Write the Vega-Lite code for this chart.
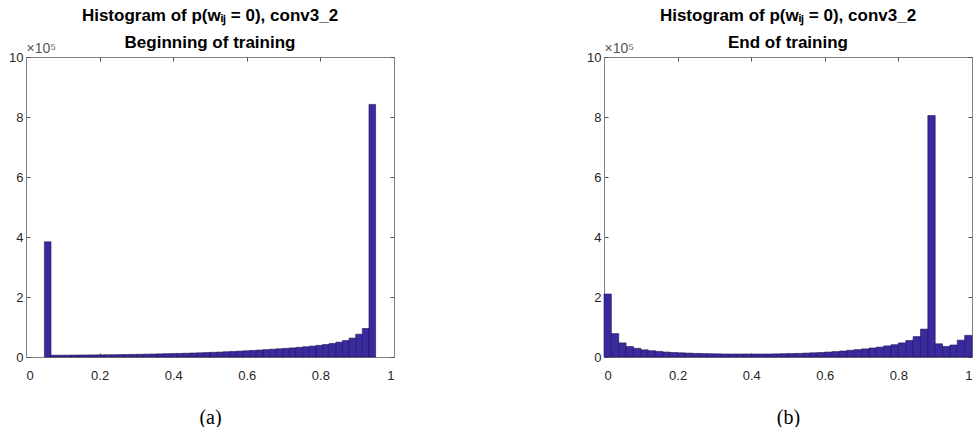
{
  "$schema": "https://vega.github.io/schema/vega-lite/v6.json",
  "background": "white",
  "padding": {"left": 8, "top": 7, "right": 0, "bottom": 0},
  "spacing": 191,
  "data": {"values": [
    {"p":"a","x0":0.05,"x1":0.068,"v":384000},
    {"p":"a","x0":0.068,"x1":0.086,"v":6000},
    {"p":"a","x0":0.086,"x1":0.104,"v":6000},
    {"p":"a","x0":0.104,"x1":0.122,"v":6200},
    {"p":"a","x0":0.122,"x1":0.14,"v":6400},
    {"p":"a","x0":0.14,"x1":0.158,"v":6600},
    {"p":"a","x0":0.158,"x1":0.176,"v":6800},
    {"p":"a","x0":0.176,"x1":0.194,"v":7000},
    {"p":"a","x0":0.194,"x1":0.212,"v":7200},
    {"p":"a","x0":0.212,"x1":0.23,"v":7400},
    {"p":"a","x0":0.23,"x1":0.248,"v":7700},
    {"p":"a","x0":0.248,"x1":0.266,"v":8000},
    {"p":"a","x0":0.266,"x1":0.284,"v":8300},
    {"p":"a","x0":0.284,"x1":0.302,"v":8700},
    {"p":"a","x0":0.302,"x1":0.32,"v":9100},
    {"p":"a","x0":0.32,"x1":0.338,"v":9500},
    {"p":"a","x0":0.338,"x1":0.356,"v":10000},
    {"p":"a","x0":0.356,"x1":0.374,"v":10500},
    {"p":"a","x0":0.374,"x1":0.392,"v":11000},
    {"p":"a","x0":0.392,"x1":0.41,"v":11500},
    {"p":"a","x0":0.41,"x1":0.428,"v":12000},
    {"p":"a","x0":0.428,"x1":0.446,"v":12600},
    {"p":"a","x0":0.446,"x1":0.464,"v":13300},
    {"p":"a","x0":0.464,"x1":0.482,"v":14000},
    {"p":"a","x0":0.482,"x1":0.5,"v":14800},
    {"p":"a","x0":0.5,"x1":0.518,"v":15600},
    {"p":"a","x0":0.518,"x1":0.536,"v":16500},
    {"p":"a","x0":0.536,"x1":0.554,"v":17500},
    {"p":"a","x0":0.554,"x1":0.572,"v":18500},
    {"p":"a","x0":0.572,"x1":0.59,"v":19600},
    {"p":"a","x0":0.59,"x1":0.608,"v":20700},
    {"p":"a","x0":0.608,"x1":0.626,"v":21900},
    {"p":"a","x0":0.626,"x1":0.644,"v":23200},
    {"p":"a","x0":0.644,"x1":0.662,"v":24500},
    {"p":"a","x0":0.662,"x1":0.68,"v":25900},
    {"p":"a","x0":0.68,"x1":0.698,"v":27300},
    {"p":"a","x0":0.698,"x1":0.716,"v":28800},
    {"p":"a","x0":0.716,"x1":0.734,"v":30400},
    {"p":"a","x0":0.734,"x1":0.752,"v":32200},
    {"p":"a","x0":0.752,"x1":0.77,"v":34200},
    {"p":"a","x0":0.77,"x1":0.788,"v":36400},
    {"p":"a","x0":0.788,"x1":0.806,"v":38900},
    {"p":"a","x0":0.806,"x1":0.824,"v":41800},
    {"p":"a","x0":0.824,"x1":0.842,"v":45200},
    {"p":"a","x0":0.842,"x1":0.86,"v":49400},
    {"p":"a","x0":0.86,"x1":0.878,"v":55000},
    {"p":"a","x0":0.878,"x1":0.896,"v":63000},
    {"p":"a","x0":0.896,"x1":0.914,"v":76000},
    {"p":"a","x0":0.914,"x1":0.932,"v":95000},
    {"p":"a","x0":0.932,"x1":0.95,"v":842000},
    {"p":"b","x0":0.0,"x1":0.02,"v":210000},
    {"p":"b","x0":0.02,"x1":0.04,"v":78000},
    {"p":"b","x0":0.04,"x1":0.06,"v":47000},
    {"p":"b","x0":0.06,"x1":0.08,"v":35000},
    {"p":"b","x0":0.08,"x1":0.1,"v":29000},
    {"p":"b","x0":0.1,"x1":0.12,"v":24000},
    {"p":"b","x0":0.12,"x1":0.14,"v":21000},
    {"p":"b","x0":0.14,"x1":0.16,"v":18500},
    {"p":"b","x0":0.16,"x1":0.18,"v":16500},
    {"p":"b","x0":0.18,"x1":0.2,"v":15000},
    {"p":"b","x0":0.2,"x1":0.22,"v":14000},
    {"p":"b","x0":0.22,"x1":0.24,"v":13000},
    {"p":"b","x0":0.24,"x1":0.26,"v":12000},
    {"p":"b","x0":0.26,"x1":0.28,"v":11500},
    {"p":"b","x0":0.28,"x1":0.3,"v":11000},
    {"p":"b","x0":0.3,"x1":0.32,"v":10500},
    {"p":"b","x0":0.32,"x1":0.34,"v":10000},
    {"p":"b","x0":0.34,"x1":0.36,"v":10000},
    {"p":"b","x0":0.36,"x1":0.38,"v":10000},
    {"p":"b","x0":0.38,"x1":0.4,"v":10000},
    {"p":"b","x0":0.4,"x1":0.42,"v":10000},
    {"p":"b","x0":0.42,"x1":0.44,"v":10000},
    {"p":"b","x0":0.44,"x1":0.46,"v":10000},
    {"p":"b","x0":0.46,"x1":0.48,"v":10500},
    {"p":"b","x0":0.48,"x1":0.5,"v":11000},
    {"p":"b","x0":0.5,"x1":0.52,"v":11500},
    {"p":"b","x0":0.52,"x1":0.54,"v":12000},
    {"p":"b","x0":0.54,"x1":0.56,"v":13000},
    {"p":"b","x0":0.56,"x1":0.58,"v":14000},
    {"p":"b","x0":0.58,"x1":0.6,"v":15000},
    {"p":"b","x0":0.6,"x1":0.62,"v":16500},
    {"p":"b","x0":0.62,"x1":0.64,"v":18000},
    {"p":"b","x0":0.64,"x1":0.66,"v":20000},
    {"p":"b","x0":0.66,"x1":0.68,"v":22500},
    {"p":"b","x0":0.68,"x1":0.7,"v":24500},
    {"p":"b","x0":0.7,"x1":0.72,"v":27000},
    {"p":"b","x0":0.72,"x1":0.74,"v":30000},
    {"p":"b","x0":0.74,"x1":0.76,"v":33000},
    {"p":"b","x0":0.76,"x1":0.78,"v":37000},
    {"p":"b","x0":0.78,"x1":0.8,"v":41000},
    {"p":"b","x0":0.8,"x1":0.82,"v":47000},
    {"p":"b","x0":0.82,"x1":0.84,"v":55000},
    {"p":"b","x0":0.84,"x1":0.86,"v":68000},
    {"p":"b","x0":0.86,"x1":0.88,"v":93000},
    {"p":"b","x0":0.88,"x1":0.9,"v":805000},
    {"p":"b","x0":0.9,"x1":0.92,"v":44000},
    {"p":"b","x0":0.92,"x1":0.94,"v":35000},
    {"p":"b","x0":0.94,"x1":0.96,"v":40000},
    {"p":"b","x0":0.96,"x1":0.98,"v":56000},
    {"p":"b","x0":0.98,"x1":1.0,"v":72000}
  ]},
  "hconcat": [
    {
      "width": 368, "height": 300,
      "transform": [{"filter": "datum.p == 'a'"}],
      "title": {"text": "Histogram of p(wᵢⱼ = 0), conv3_2", "subtitle": "Beginning of training"},
      "layer": [
        {
          "mark": {"type": "bar", "fill": "#3a2aa0", "stroke": "#1c1450", "strokeWidth": 0.6},
          "encoding": {
            "x": {"field": "x0", "type": "quantitative", "scale": {"domain": [0, 1], "nice": false},
                  "axis": {"orient": "bottom", "values": [0, 0.2, 0.4, 0.6, 0.8, 1], "format": ".1~f", "title": "(a)"}},
            "x2": {"field": "x1"},
            "y": {"field": "v", "type": "quantitative", "scale": {"domain": [0, 1000000], "nice": false},
                  "axis": {"orient": "left", "values": [0, 200000, 400000, 600000, 800000, 1000000], "labelExpr": "datum.value / 100000", "title": "×10⁵",
                           "titleAngle": 0, "titleAlign": "left", "titleBaseline": "alphabetic", "titleX": 0, "titleY": -5, "titleFontSize": 14, "titleFontWeight": "normal", "titleColor": "#555555"}},
            "y2": {"datum": 0}
          }
        },
        {
          "mark": {"type": "bar", "opacity": 0},
          "encoding": {
            "x": {"field": "x0", "type": "quantitative", "axis": {"orient": "top", "values": [0, 0.2, 0.4, 0.6, 0.8, 1], "labels": false, "title": null}},
            "x2": {"field": "x1"},
            "y": {"field": "v", "type": "quantitative", "axis": {"orient": "right", "values": [0, 200000, 400000, 600000, 800000, 1000000], "labels": false, "title": null}},
            "y2": {"datum": 0}
          }
        }
      ],
      "resolve": {"axis": {"x": "independent", "y": "independent"}}
    },
    {
      "width": 368, "height": 300,
      "transform": [{"filter": "datum.p == 'b'"}],
      "title": {"text": "Histogram of p(wᵢⱼ = 0), conv3_2", "subtitle": "End of training"},
      "layer": [
        {
          "mark": {"type": "bar", "fill": "#3a2aa0", "stroke": "#1c1450", "strokeWidth": 0.6},
          "encoding": {
            "x": {"field": "x0", "type": "quantitative", "scale": {"domain": [0, 1], "nice": false},
                  "axis": {"orient": "bottom", "values": [0, 0.2, 0.4, 0.6, 0.8, 1], "format": ".1~f", "title": "(b)"}},
            "x2": {"field": "x1"},
            "y": {"field": "v", "type": "quantitative", "scale": {"domain": [0, 1000000], "nice": false},
                  "axis": {"orient": "left", "values": [0, 200000, 400000, 600000, 800000, 1000000], "labelExpr": "datum.value / 100000", "title": "×10⁵",
                           "titleAngle": 0, "titleAlign": "left", "titleBaseline": "alphabetic", "titleX": 0, "titleY": -5, "titleFontSize": 14, "titleFontWeight": "normal", "titleColor": "#555555"}},
            "y2": {"datum": 0}
          }
        },
        {
          "mark": {"type": "bar", "opacity": 0},
          "encoding": {
            "x": {"field": "x0", "type": "quantitative", "axis": {"orient": "top", "values": [0, 0.2, 0.4, 0.6, 0.8, 1], "labels": false, "title": null}},
            "x2": {"field": "x1"},
            "y": {"field": "v", "type": "quantitative", "axis": {"orient": "right", "values": [0, 200000, 400000, 600000, 800000, 1000000], "labels": false, "title": null}},
            "y2": {"datum": 0}
          }
        }
      ],
      "resolve": {"axis": {"x": "independent", "y": "independent"}}
    }
  ],
  "config": {
    "font": "Liberation Sans",
    "view": {"stroke": null},
    "title": {"font": "Liberation Sans", "fontSize": 17, "fontWeight": "bold", "color": "#000000", "subtitleFont": "Liberation Sans", "subtitleFontSize": 17, "subtitleFontWeight": "bold", "subtitleColor": "#000000", "subtitlePadding": 10, "offset": -11, "anchor": "middle", "frame": "group"},
    "axis": {"grid": false, "domainColor": "#808080", "domainWidth": 1, "tickColor": "#555555", "tickSize": -4, "labelFont": "Liberation Sans", "labelFontSize": 13, "labelColor": "#262626"},
    "axisX": {"labelPadding": 16, "titleFont": "Liberation Serif", "titleFontSize": 20, "titleFontWeight": "normal", "titleColor": "#000000", "titlePadding": 25},
    "axisY": {"labelPadding": 7}
  }
}
